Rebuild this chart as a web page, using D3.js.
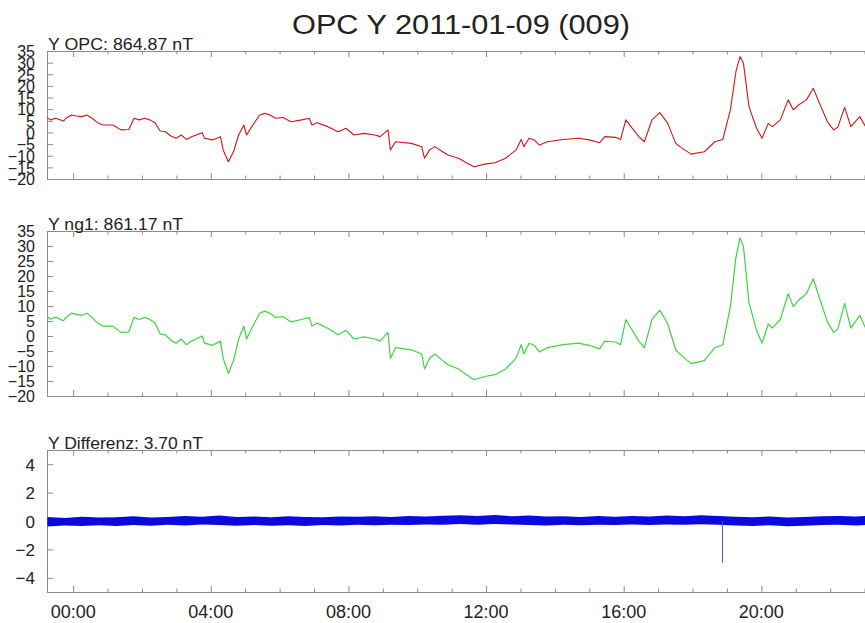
<!DOCTYPE html>
<html>
<head>
<meta charset="utf-8">
<script src="https://cdn.jsdelivr.net/npm/d3@7"></script>
<style>
  html, body { margin: 0; padding: 0; background: #fff; }
  svg { display: block; }
  text { font-family: "Liberation Sans", Arial, Helvetica, sans-serif; fill: #222; }
</style>
</head>
<body>
<svg id="chart" width="865" height="623"></svg>
<script>
// ---------------- DATA ----------------
const titleText = "OPC Y 2011-01-09 (009)";
const panelLabels = ["Y OPC: 864.87 nT", "Y ng1: 861.17 nT", "Y Differenz: 3.70 nT"];

// time in hours (UT) of the sampled points
const hours = [-0.81,-0.66,-0.51,-0.28,-0.21,-0.05,0.10,0.25,0.40,0.55,0.71,0.86,1.16,1.39,1.62,1.77,1.92,2.08,2.23,2.38,
  2.53,2.68,2.84,2.99,3.14,3.29,3.44,3.75,3.82,4.05,4.28,4.36,4.51,4.66,4.81,4.96,5.04,5.19,5.42,5.57,
  5.72,5.88,6.10,6.33,6.64,6.86,6.94,7.09,7.40,7.70,7.93,8.16,8.46,8.77,8.92,9.15,9.22,9.37,9.83,10.13,
  10.21,10.36,10.51,10.74,10.89,11.20,11.43,11.65,11.96,12.26,12.57,12.87,13.02,13.10,13.25,13.40,13.55,13.78,14.24,14.69,
  15.00,15.30,15.45,15.76,15.91,16.06,16.21,16.44,16.60,16.82,17.05,17.28,17.51,17.66,17.96,18.34,18.65,18.88,18.95,19.10,
  19.26,19.38,19.48,19.64,19.86,20.02,20.20,20.32,20.55,20.78,20.93,21.08,21.31,21.51,21.69,21.92,22.10,22.22,22.42,22.60,
  22.86,23.03,23.30];

// Y OPC (nT, baseline removed)
const opcY = [6.8,5.4,6.1,4.9,6.1,7.5,7.1,6.8,7.5,6.1,4.2,3.2,3.2,1.1,1.3,6.1,5.4,6.1,5.4,4.2,
  0.6,0.3,-1.5,-2.5,-1.1,-3.0,-1.8,-0.1,-2.5,-3.2,-1.8,-7.5,-12.6,-8.3,-1.1,3.2,-1.1,2.5,7.5,8.2,
  7.5,6.1,6.4,4.6,5.4,6.1,3.2,4.2,2.5,0.3,1.8,-1.1,-0.4,-1.1,-1.8,1.1,-7.5,-4.0,-4.7,-6.1,
  -11.1,-7.5,-6.1,-8.3,-9.7,-11.1,-13.0,-14.7,-13.6,-13.0,-11.1,-7.5,-3.0,-6.1,-2.5,-3.2,-5.4,-4.0,-3.0,-2.5,
  -3.2,-4.4,-1.8,-2.1,-3.0,5.4,2.5,-1.8,-4.0,5.4,8.5,3.9,-4.7,-6.4,-9.3,-8.3,-4.0,-3.0,1.1,9.7,
  26.1,32.6,29.7,11.1,1.8,-2.5,3.9,2.5,5.4,14.0,9.7,11.8,14.0,19.0,12.5,4.6,1.1,2.2,10.8,2.5,
  6.8,2.5,4.0];

// Y ng1 (nT, baseline removed)
const ng1Y = [7.0,5.6,6.3,5.1,6.2,7.6,7.2,6.9,7.6,6.2,4.3,3.3,3.3,1.2,1.4,6.2,5.5,6.2,5.5,4.3,
  0.7,0.4,-1.4,-2.4,-1.0,-2.9,-1.7,0.0,-2.4,-3.1,-1.7,-7.4,-12.5,-8.2,-1.0,3.3,-1.0,2.6,7.6,8.3,
  7.6,6.2,6.5,4.7,5.5,6.2,3.3,4.3,2.6,0.4,1.9,-1.0,-0.3,-1.0,-1.7,1.2,-7.4,-3.9,-4.6,-6.0,
  -11.0,-7.4,-6.0,-8.2,-9.6,-11.0,-12.9,-14.6,-13.5,-12.9,-11.0,-7.4,-2.9,-6.0,-2.4,-3.1,-5.3,-3.9,-2.9,-2.4,
  -3.1,-4.3,-1.7,-2.0,-2.9,5.5,2.6,-1.7,-3.9,5.5,8.6,4.0,-4.6,-6.3,-9.2,-8.2,-3.9,-2.9,1.2,9.8,
  26.2,32.7,29.8,11.2,1.9,-2.4,4.0,2.6,5.5,14.1,9.8,11.9,14.1,19.1,12.6,4.7,1.2,2.3,10.9,2.6,
  6.9,2.6,4.1];

// Difference OPC - ng1 : upper / lower envelope of the noisy trace (nT), every half hour
const diffHours = [-0.75,-0.25,0.25,0.75,1.25,1.75,2.25,2.75,3.25,3.75,4.25,4.75,5.25,5.75,6.25,6.75,7.25,7.75,8.25,8.75,
  9.25,9.75,10.25,10.75,11.25,11.75,12.25,12.75,13.25,13.75,14.25,14.75,15.25,15.75,16.25,16.75,17.25,17.75,18.25,18.75,
  19.25,19.75,20.25,20.75,21.25,21.75,22.25,22.75,23.25,23.75];
const diffUpper = [0.28,0.22,0.30,0.25,0.27,0.33,0.24,0.29,0.35,0.30,0.38,0.28,0.31,0.26,0.33,0.29,0.27,0.32,0.30,0.34,
  0.29,0.35,0.31,0.37,0.40,0.36,0.42,0.34,0.38,0.31,0.33,0.29,0.35,0.30,0.36,0.32,0.38,0.33,0.41,0.36,
  0.30,0.27,0.31,0.25,0.29,0.33,0.36,0.31,0.38,0.34];
const diffLower = [-0.38,-0.32,-0.36,-0.30,-0.35,-0.29,-0.33,-0.27,-0.31,-0.25,-0.29,-0.33,-0.28,-0.34,-0.30,-0.36,-0.29,-0.31,-0.27,-0.30,
  -0.26,-0.28,-0.24,-0.27,-0.22,-0.26,-0.21,-0.25,-0.28,-0.32,-0.27,-0.30,-0.26,-0.29,-0.25,-0.28,-0.24,-0.27,-0.23,-0.27,
  -0.31,-0.35,-0.30,-0.37,-0.33,-0.29,-0.27,-0.31,-0.26,-0.29];
const spikeHour = 18.87, spikeValue = -2.95;

const majorHours = [0,4,8,12,16,20,24];
const majorLabels = ["00:00","04:00","08:00","12:00","16:00","20:00"];
const minorHours = [1,2,3,5,6,7,9,10,11,13,14,15,17,18,19,21,22,23];
const yTicksField = [35,30,25,20,15,10,5,0,-5,-10,-15,-20];
const yTicksDiff = [4,2,0,-2,-4];

// ---------------- DRAWING ----------------
const svg = d3.select("#chart");
const left = 47, right = 899;
const x = d3.scaleLinear().domain([-0.76, 24]).range([left, right]);

const panels = [
  {top: 51, bottom: 179, domain: [-20, 35], ticks: yTicksField, fs: 16, label: panelLabels[0], labelW: 145},
  {top: 231, bottom: 396, domain: [-20, 35], ticks: yTicksField, fs: 16, label: panelLabels[1], labelW: 135},
  {top: 450, bottom: 592, domain: [-5, 5], ticks: yTicksDiff, fs: 17, label: panelLabels[2], labelW: 155}
];
panels.forEach(p => { p.y = d3.scaleLinear().domain(p.domain).range([p.bottom, p.top]); });

// title
svg.append("text").attr("x", 461).attr("y", 34).attr("text-anchor", "middle")
  .attr("font-size", 27).attr("textLength", 338).attr("lengthAdjust", "spacingAndGlyphs")
  .text(titleText);

const axisColor = "#8a8a8a";

panels.forEach((p, i) => {
  const g = svg.append("g");
  const cid = "clip" + i;
  svg.append("clipPath").attr("id", cid).append("rect")
    .attr("x", left).attr("y", p.top).attr("width", right - left).attr("height", p.bottom - p.top);

  const styleAxis = sel => {
    sel.select(".domain").remove();
    sel.selectAll("line").attr("stroke", axisColor).attr("stroke-width", 1);
    sel.selectAll("text").remove();
  };
  g.append("g").attr("transform", `translate(0,${p.top})`)
    .call(d3.axisBottom(x).tickValues(majorHours).tickSize(6).tickFormat("")).call(styleAxis);
  g.append("g").attr("transform", `translate(0,${p.top})`)
    .call(d3.axisBottom(x).tickValues(minorHours).tickSize(3.5).tickFormat("")).call(styleAxis);
  g.append("g").attr("transform", `translate(0,${p.bottom})`)
    .call(d3.axisTop(x).tickValues(majorHours).tickSize(6).tickFormat("")).call(styleAxis);
  g.append("g").attr("transform", `translate(0,${p.bottom})`)
    .call(d3.axisTop(x).tickValues(minorHours).tickSize(3.5).tickFormat("")).call(styleAxis);

  const ya = g.append("g").attr("transform", `translate(${left},0)`)
    .call(d3.axisLeft(p.y).tickValues(p.ticks).tickSize(-6).tickPadding(12).tickSizeOuter(0));
  ya.select(".domain").remove();
  ya.selectAll("line").attr("stroke", axisColor);
  ya.selectAll("text").attr("font-size", p.fs).attr("fill", "#222")
    .attr("font-family", '"Liberation Sans", Arial, sans-serif').attr("dy", "0.36em");

  g.append("line").attr("x1", left).attr("x2", right).attr("y1", p.top + 0.5).attr("y2", p.top + 0.5).attr("stroke", axisColor);
  g.append("line").attr("x1", left).attr("x2", right).attr("y1", p.bottom + 0.5).attr("y2", p.bottom + 0.5).attr("stroke", axisColor);
  g.append("line").attr("x1", left + 0.5).attr("x2", left + 0.5).attr("y1", p.top).attr("y2", p.bottom + 1).attr("stroke", axisColor);

  svg.append("text").attr("x", 48).attr("y", p.top - 1).attr("font-size", 17)
    .attr("textLength", p.labelW).attr("lengthAdjust", "spacingAndGlyphs").text(p.label);

  p.clip = `url(#${cid})`;
});

// series
const line0 = d3.line().x((d, i) => x(hours[i])).y(d => panels[0].y(d));
svg.append("path").datum(opcY).attr("d", line0).attr("fill", "none")
  .attr("stroke", "#d01515").attr("stroke-width", 1.1).attr("stroke-linejoin", "round")
  .attr("clip-path", panels[0].clip);

const line1 = d3.line().x((d, i) => x(hours[i])).y(d => panels[1].y(d));
svg.append("path").datum(ng1Y).attr("d", line1).attr("fill", "none")
  .attr("stroke", "#3fd43f").attr("stroke-width", 1.2).attr("stroke-linejoin", "round")
  .attr("clip-path", panels[1].clip);

const area2 = d3.area().x((d, i) => x(diffHours[i]))
  .y0((d, i) => panels[2].y(diffLower[i])).y1(d => panels[2].y(d));
svg.append("path").datum(diffUpper).attr("d", area2)
  .attr("fill", "#0a0ae0").attr("clip-path", panels[2].clip);
svg.append("line").attr("x1", x(spikeHour)).attr("x2", x(spikeHour))
  .attr("y1", panels[2].y(0)).attr("y2", panels[2].y(spikeValue))
  .attr("stroke", "#4a5ab8").attr("stroke-width", 1);

// x labels
svg.append("g").selectAll("text").data(majorLabels).join("text")
  .attr("x", (d, i) => x(majorHours[i])).attr("y", 618).attr("text-anchor", "middle").attr("font-size", 18)
  .text(d => d);
</script>
</body>
</html>
